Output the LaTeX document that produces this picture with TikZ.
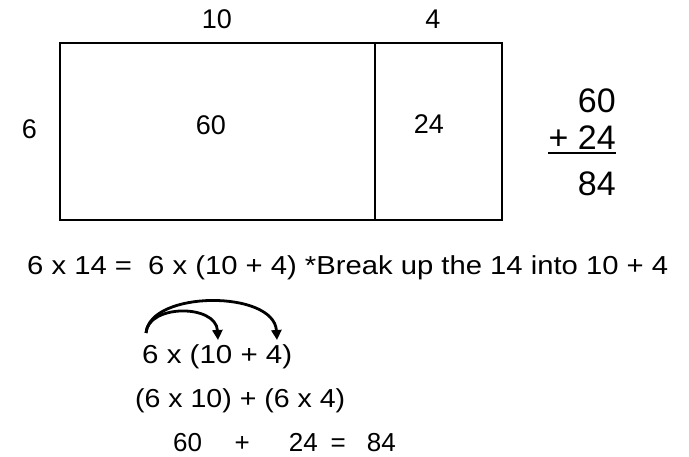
\documentclass[tikz,border=0pt]{standalone}
\usepackage{fontspec}
\setmainfont{Liberation Sans}
\usetikzlibrary{arrows.meta,positioning}
% stretch a line of text to a given width, keep its height
\newcommand{\fitto}[2]{\resizebox{#1}{\height}{#2}}

\begin{document}
\begin{tikzpicture}[x=1pt,y=-1pt,>={Triangle[length=10pt,width=10pt]},
  every node/.style={font=\fontsize{27}{30}\selectfont,inner sep=0pt},
  part/.style={draw,line width=2.6pt,inner sep=0pt,minimum height=177},
  big/.style={font=\fontsize{34}{38}\selectfont,anchor=base east},
  eq/.style={font=\fontsize{26}{29}\selectfont,anchor=base west},
  hop/.style={->,line width=2.8pt}]
\useasboundingbox (0,0) rectangle (689,457);
% area model
\node[part,minimum width=315] (tens) at (217.5,131.5) {};
\node[part,minimum width=127] (ones) at (438.5,131.5) {};
\node[anchor=base] (w10) at (217,29) {10};
\node[anchor=base] (w4) at (433,29) {4};
\node[anchor=base] (h6) at (29.5,139) {6};
\node[anchor=base] (a60) at (211,135) {60};
\node[anchor=base] (a24) at (429,134) {24};
% column sum
\node[big] (s60) at (616,113) {60};
\node[big] (s24) at (616,150) {+ 24};
\node[big] (s84) at (616,196) {84};
\draw[line width=1.8pt] ([shift={(0,3)}]s24.base west) -- ([shift={(0,3)}]s24.base east);
% equations
\node[eq] (line1) at (27,275) {\fitto{641pt}{6 x 14 =\ \ 6 x (10 + 4) *Break up the 14 into 10 + 4}};
\node[eq] (dist) at (142,363) {\fitto{150pt}{6 x (10 + 4)}};
\node[eq] (prod) at (135,407) {\fitto{210pt}{(6 x 10) + (6 x 4)}};
\node[eq] (res) at (173,451) {60\hspace{32.5pt}+\hspace{39pt}24\hspace{13pt}=\hspace{21pt}84};
\coordinate (six) at (146,333);
\coordinate (ten) at (218,340);
\coordinate (four) at (277,340);
\draw[hop] (six) .. controls (148,304) and (216,304) .. (ten);
\draw[hop] (six) .. controls (150,290) and (274,290) .. (four);
\end{tikzpicture}
\end{document}
